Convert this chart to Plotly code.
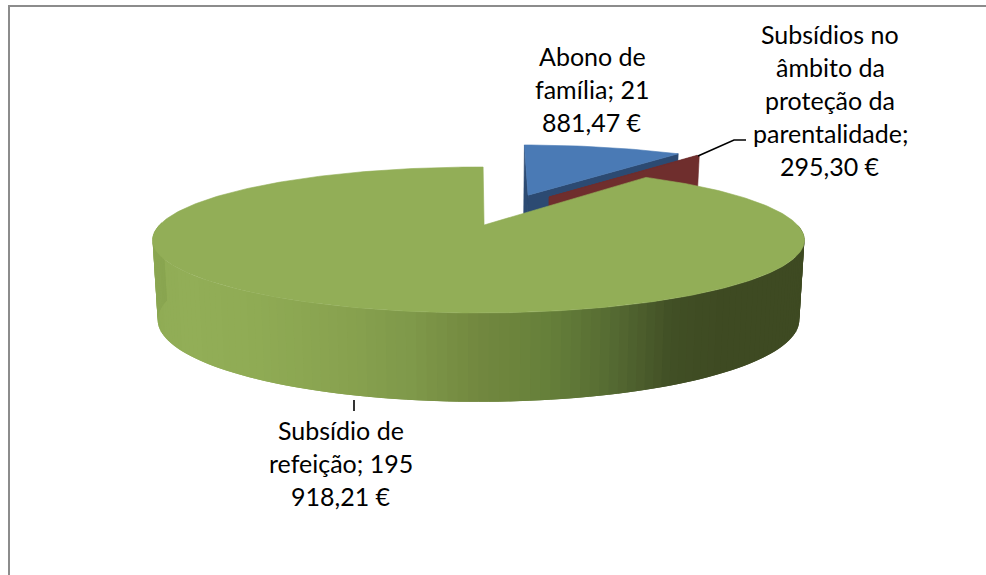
import math
import plotly.graph_objects as go

# ---- data
categories = ["Abono de família", "Subsídios no âmbito da proteção da parentalidade", "Subsídio de refeição"]
values = [21881.47, 295.30, 195918.21]
value_labels = ["21 881,47 €", "295,30 €", "195 918,21 €"]

# ---- look
FIRST_ANGLE = 1.0
EXPLODE = [(0.498, 20.0), (0.498, 29.0), (0.0, 0.0)]
SLICE_SCALE = 1.03
TOP_COLORS = ["#4a7ab5", "#6f2e2d", "#92ae57"]
WALL_COLORS = ["#2c4a72", "#6f2e2d", None]
RIM_STOPS = [(90, "#3e4a22"), (140, "#3e4a22"), (150, "#414f25"), (160, "#556a32"), (170, "#66803a"),
             (180, "#72883f"), (190, "#7f994a"), (200, "#88a24f"), (215, "#8fab54"), (232, "#92ae57"),
             (250, "#90ac55"), (260, "#8ba752"), (272, "#89a550")]

CX = 478.5
TOP_Y, TOP_H, TOP_R = 225.0, 69.9, 319.0
BOT_Y, BOT_H, BOT_R = 303.0, 78.5, 314.0
K = 0.2055


def project(u, v, bottom=False):
    y0, h, r = (BOT_Y, BOT_H, BOT_R) if bottom else (TOP_Y, TOP_H, TOP_R)
    s = 1 / (1 + K * v)
    return CX + r * u * s, y0 - h * v * s


def rim(a, ox=0.0, oy=0.0, bottom=False, scale=1.0):
    t = math.radians(a)
    return project(ox + scale * math.sin(t), oy + scale * math.cos(t), bottom)


def hex2rgb(c):
    return [int(c[i:i + 2], 16) for i in (1, 3, 5)]


def rim_color(a):
    for (a0, c0), (a1, c1) in zip(RIM_STOPS, RIM_STOPS[1:]):
        if a0 <= a <= a1:
            f = (a - a0) / (a1 - a0)
            p, q = hex2rgb(c0), hex2rgb(c1)
            return "#%02x%02x%02x" % tuple(round(p[i] + (q[i] - p[i]) * f) for i in range(3))
    return RIM_STOPS[-1][1]


fig = go.Figure()


def poly(points, color, width=0.6):
    xs = [p[0] for p in points] + [points[0][0]]
    ys = [p[1] for p in points] + [points[0][1]]
    fig.add_trace(go.Scatter(x=xs, y=ys, mode="lines", fill="toself", fillcolor=color,
                             line=dict(color=color, width=width), hoverinfo="skip", showlegend=False))


total = sum(values)
spans = []
a = FIRST_ANGLE
for val in values:
    spans.append((a, a + 360 * val / total))
    a = spans[-1][1]

# blue and red slices, behind the big one
for i in (0, 1):
    a0, a1 = spans[i]
    d, direction = EXPLODE[i]
    ox = d * math.sin(math.radians(direction))
    oy = d * math.cos(math.radians(direction))
    n = 24
    arc = [a0 + (a1 - a0) * j / n for j in range(n + 1)]
    for edge in (a0, a1):
        poly([project(ox, oy), rim(edge, ox, oy, scale=SLICE_SCALE),
              rim(edge, ox, oy, True, SLICE_SCALE), project(ox, oy, True)], WALL_COLORS[i])
    poly([project(ox, oy)] + [rim(q, ox, oy, scale=SLICE_SCALE) for q in arc], TOP_COLORS[i])

# big slice: rim first (each band overlaps the next, so no seams), then top face
a0, a1 = spans[2]
step = 1.5
q = RIM_STOPS[0][0]
while q < RIM_STOPS[-1][0]:
    end = min(q + 2 * step, RIM_STOPS[-1][0])
    poly([rim(q), rim(end), rim(end, bottom=True), rim(q, bottom=True)], rim_color(q + step / 2), width=0)
    q += step
n = 360
poly([project(math.sin(math.radians(FIRST_ANGLE)), 0.0)] +
     [rim(a0 + (a1 - a0) * j / n) for j in range(n + 1)], TOP_COLORS[2])

# leader lines
for pts in [((698, 156), (734, 140), (746, 140)), ((354, 400), (354, 411))]:
    fig.add_trace(go.Scatter(x=[p[0] for p in pts], y=[p[1] for p in pts], mode="lines",
                             line=dict(color="#000000", width=1.6), hoverinfo="skip", showlegend=False))


def label(i, split, x, y):
    name = categories[i] + "; " + value_labels[i]
    lines = []
    rest = name
    for part in split:
        idx = rest.index(part) + len(part)
        lines.append(rest[:idx].strip())
        rest = rest[idx:]
    lines.append(rest.strip())
    for j, ln in enumerate(lines):
        fig.add_annotation(x=x, y=y + j * 33, text=ln, showarrow=False, xref="x", yref="y",
                           xanchor="center", yanchor="middle",
                           font=dict(family="Lato", size=25, color="#000000"))


label(0, ["Abono de", "família; 21"], 592, 56)
label(1, ["Subsídios no", "âmbito da", "proteção da", "parentalidade;"], 830, 34)
label(2, ["Subsídio de", "refeição; 195"], 341, 430)

fig.update_layout(
    width=986, height=575, margin=dict(l=0, r=0, t=0, b=0),
    paper_bgcolor="#ffffff", plot_bgcolor="#ffffff", showlegend=False,
    xaxis=dict(range=[0, 986], visible=False, fixedrange=True),
    yaxis=dict(range=[575, 0], visible=False, fixedrange=True),
    shapes=[
        dict(type="line", x0=9, x1=9, y0=5, y1=575, xref="x", yref="y", line=dict(color="#8c8c8c", width=2)),
        dict(type="line", x0=8, x1=986, y0=6, y1=6, xref="x", yref="y", line=dict(color="#8c8c8c", width=2)),
    ],
)
fig.write_html("out.html", config=dict(displayModeBar=False),
               post_script="document.body.style.margin='0';document.documentElement.style.overflow='hidden';")
